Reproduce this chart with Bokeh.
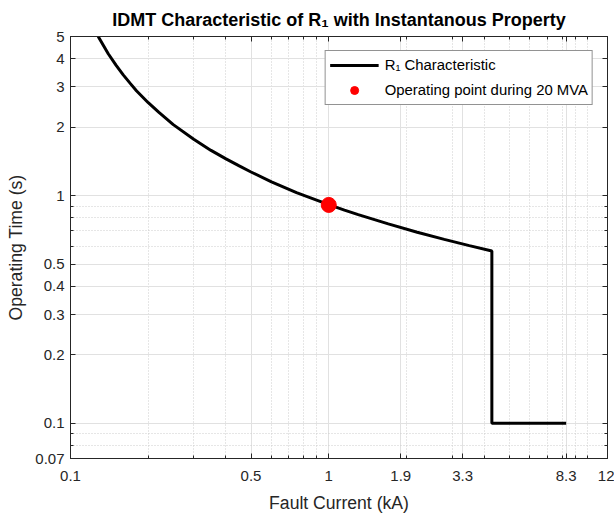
from bokeh.plotting import figure
from bokeh.models import FixedTicker, LogAxis, Legend, LegendItem
from bokeh.embed import file_html
from bokeh.resources import INLINE

# ---- data ----
fault_current = [0.128, 0.14, 0.15, 0.16, 0.17, 0.18, 0.2, 0.22, 0.25, 0.3, 0.35, 0.4, 0.45,
                 0.5, 0.6, 0.75, 0.85, 1.0, 1.15, 1.3, 1.7, 2.2, 2.8, 3.5, 4.28, 4.28, 8.3]
operating_time = [5.0, 4.2, 3.74, 3.39, 3.12, 2.89, 2.56, 2.32, 2.05, 1.77, 1.58, 1.45, 1.35,
                  1.27, 1.15, 1.03, 0.978, 0.913, 0.864, 0.825, 0.751, 0.69, 0.642, 0.603, 0.571, 0.1, 0.1]
op_point_current = [1.0]
op_point_time = [0.91]

x_ticks = [0.1, 0.5, 1, 1.9, 3.3, 8.3, 12]
x_tick_labels = ["0.1", "0.5", "1", "1.9", "3.3", "8.3", "12"]
x_minor = [0.2, 0.3, 0.4, 0.6, 0.7, 0.8, 0.9, 2, 3, 4, 5, 6, 7, 8, 9, 10]
y_ticks = [0.07, 0.1, 0.2, 0.3, 0.4, 0.5, 1, 2, 3, 4, 5]
y_tick_labels = ["0.07", "0.1", "0.2", "0.3", "0.4", "0.5", "1", "2", "3", "4", "5"]
y_minor = [0.08, 0.09, 0.6, 0.7, 0.8, 0.9]

FONT = "Liberation Sans"
AX = "#262626"

p = figure(width=614, height=515, x_axis_type="log", y_axis_type="log",
           x_range=(0.1, 12), y_range=(0.07, 5),
           output_backend="svg", toolbar_location=None,
           min_border_left=70, min_border_right=7, min_border_top=36, min_border_bottom=56)

p.title.text = "IDMT Characteristic of R\u2081 with Instantanous Property"
p.title.text_font = FONT
p.title.text_font_size = "18px"
p.title.text_font_style = "bold"
p.title.text_color = "#000000"
p.title.align = "center"
p.title.vertical_align = "top"
p.title.standoff = 10

xt = FixedTicker(ticks=x_ticks, minor_ticks=x_minor)
yt = FixedTicker(ticks=y_ticks, minor_ticks=y_minor)

bottom_axis = p.below[0]
left_axis = p.left[0]
top_axis = LogAxis(ticker=xt)
right_axis = LogAxis(ticker=yt)
p.add_layout(top_axis, "above")
p.add_layout(right_axis, "right")

bottom_axis.ticker = xt
left_axis.ticker = yt

for ax in [bottom_axis, left_axis, top_axis, right_axis]:
    ax.axis_line_color = AX
    ax.axis_line_width = 1
    ax.major_tick_line_color = AX
    ax.minor_tick_line_color = AX
    ax.major_tick_in = 5
    ax.major_tick_out = 0
    ax.minor_tick_in = 3
    ax.minor_tick_out = 0
    ax.major_label_text_font = FONT
    ax.major_label_text_font_size = "15px"
    ax.major_label_text_color = AX
    ax.axis_label_text_font = FONT
    ax.axis_label_text_font_size = "17.6px"
    ax.axis_label_text_font_style = "normal"
    ax.axis_label_text_color = AX

# top / right axes carry ticks only (their labels are not drawn)
for ax in [top_axis, right_axis]:
    ax.major_label_text_font_size = "1px"
    ax.major_label_text_color = None
    ax.major_label_text_alpha = 0
    ax.major_label_standoff = 0

bottom_axis.major_label_overrides = {v: s for v, s in zip(x_ticks, x_tick_labels)}
left_axis.major_label_overrides = {v: s for v, s in zip(y_ticks, y_tick_labels)}
bottom_axis.axis_label = "Fault Current (kA)"
left_axis.axis_label = "Operating Time (s)"
bottom_axis.major_label_standoff = 12
bottom_axis.axis_label_standoff = 9
left_axis.major_label_standoff = 6
left_axis.axis_label_standoff = 6

for g, t in [(p.xgrid[0], xt), (p.ygrid[0], yt)]:
    g.ticker = t
    g.grid_line_color = "#e1e1e1"
    g.grid_line_width = 1
    g.minor_grid_line_color = "#cdcdcd"
    g.minor_grid_line_dash = "1 2"
    g.minor_grid_line_width = 1

p.outline_line_color = AX
p.background_fill_color = "white"
p.border_fill_color = "white"

curve = p.line(fault_current, operating_time, line_color="black", line_width=3)
pt = p.scatter(op_point_current, op_point_time, size=15, marker="circle",
               fill_color="#ff0000", line_color="#ff0000")

legend = Legend(items=[LegendItem(label="R\u2081 Characteristic", renderers=[curve]),
                       LegendItem(label="Operating point during 20 MVA", renderers=[pt])],
                location="top_right")
legend.margin = 14
legend.padding = 4
legend.spacing = 5
legend.glyph_width = 49
legend.glyph_height = 20
legend.label_standoff = 6
legend.label_height = 20
legend.label_text_font = FONT
legend.label_text_font_size = "14.9px"
legend.label_text_color = "#000000"
legend.border_line_color = AX
legend.border_line_width = 1
legend.background_fill_alpha = 1.0
p.add_layout(legend)

open("out.html", "w").write(file_html(p, INLINE))
